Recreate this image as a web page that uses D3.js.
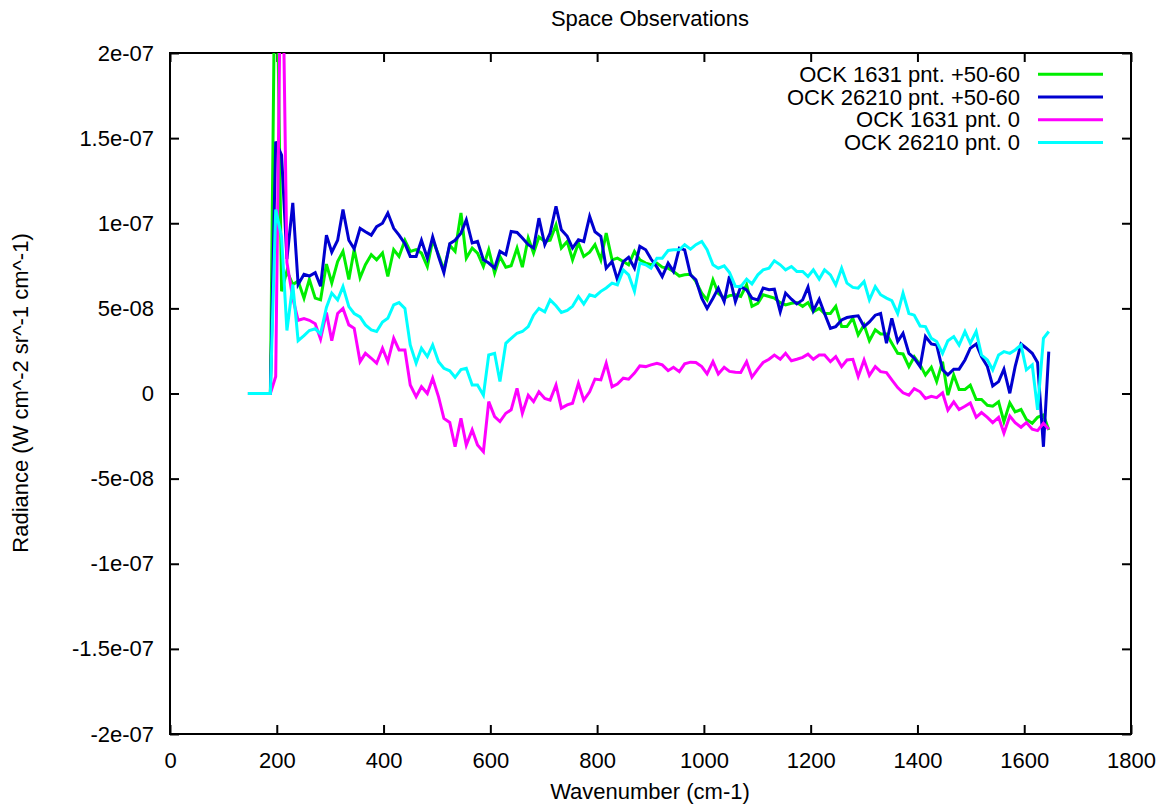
<!DOCTYPE html>
<html>
<head>
<meta charset="utf-8">
<script src="https://cdnjs.cloudflare.com/ajax/libs/d3/7.8.5/d3.min.js"></script>
<style>
  body { margin: 0; background: #fff; }
  text { font-family: "Liberation Sans", Arial, sans-serif; }
</style>
</head>
<body>
<div id="graph"></div>
<script>
'use strict';

// radiance values are read in units of 1e-9 W cm^-2 sr^-1 cm^-1
const UNIT = 1e-9;

const wavenumbers = [
  146, 156, 167, 177, 188, 198, 209, 219, 230, 240,
  251, 261, 272, 282, 293, 303, 314, 324, 335, 345,
  356, 366, 377, 387, 398, 408, 419, 429, 440, 450,
  461, 471, 482, 492, 503, 513, 524, 534, 545, 555,
  566, 576, 587, 597, 608, 618, 629, 639, 650, 660,
  671, 681, 691, 702, 712, 723, 733, 744, 754, 765,
  775, 786, 796, 807, 817, 828, 838, 849, 859, 870,
  880, 891, 901, 912, 922, 933, 943, 954, 964, 975,
  985, 996, 1006, 1017, 1027, 1038, 1048, 1059, 1069, 1080,
  1090, 1101, 1111, 1122, 1132, 1143, 1153, 1164, 1174, 1185,
  1195, 1205, 1216, 1226, 1237, 1247, 1258, 1268, 1279, 1289,
  1300, 1310, 1321, 1331, 1342, 1352, 1363, 1373, 1384, 1394,
  1405, 1415, 1426, 1436, 1447, 1457, 1468, 1478, 1489, 1499,
  1510, 1520, 1531, 1541, 1552, 1562, 1573, 1583, 1594, 1604,
  1615, 1625, 1636, 1646
];

const ock1631_50_60 = [
  0, 0, 0, 0, 0, 300, 60, 72, 64, 66,
  56, 67, 56, 55, 76, 65, 77.5, 83.5, 67, 84.5,
  68, 75.6, 81.5, 78.5, 82.5, 68.7, 84.5, 80.5, 90, 83.5,
  84.5, 82.5, 74.6, 90, 81.5, 72.6, 87, 83.5, 106, 79.5,
  85.4, 82.5, 74.6, 84.5, 70.7, 80.5, 74.2, 75, 85.4, 74.2,
  91.3, 82.5, 91.9, 89.3, 90, 99, 85.4, 89.3, 78.5, 88.4,
  80.5, 83, 87.4, 78.5, 94.2, 78.5, 79.5, 77.5, 75.6, 83.5,
  78.5, 76.6, 75.6, 76.6, 74.2, 73.6, 71.7, 69, 69.7, 70,
  65.8, 58.9, 55, 66.8, 58.9, 56, 57.5, 58, 57, 63.8,
  51.2, 53, 58, 57, 56, 53.4, 52, 53, 53.4, 51.2,
  53.4, 48, 50, 47, 47, 51.2, 39.3, 39.3, 44.2, 34.4,
  40.3, 31, 37.4, 35, 35, 29.5, 23.6, 23.2, 15.8, 21.6,
  16.8, 10.9, 15.4, 7, 18.7, -1, 10.9, 2.4, 2.4, 4.9,
  -3.5, -3.5, -6.9, -7.5, -4.9, -16.5, -5.5, -10.8, -9.4, -15.2,
  -17.5, -14, -12.6, -21.4
];

const ock26210_50_60 = [
  0, 0, 0, 0, 0, 148, 140, 79, 112, 64,
  70, 69, 71, 63, 93, 83, 90, 108, 90, 85,
  97, 95, 93, 98, 100, 106, 97, 93, 88, 80.5,
  80.5, 90, 79.5, 92, 80.5, 71, 88, 90, 94.2, 102,
  88.4, 89.3, 78.5, 76.6, 73.6, 83.5, 81.5, 95.2, 94.6, 91.3,
  87.4, 85.4, 103, 87.4, 94.2, 110, 96.2, 92.3, 85.4, 90.3,
  89.3, 104, 95, 92.3, 73.6, 77.5, 66.8, 77.5, 80, 73.6,
  86.4, 84.4, 79, 74.2, 68.7, 76.6, 71.7, 85.4, 84.4, 69.7,
  66.8, 56, 50, 56, 61.9, 54, 69, 54, 62.8, 60.9,
  56, 55, 62, 61, 61.3, 48, 59, 55.4, 52.6, 55,
  62.5, 48.7, 55.4, 47, 38.3, 39.3, 43.2, 44.6, 45.2, 45.6,
  39.3, 42, 46, 47, 29.5, 44.2, 30.5, 35.4, 23.6, 20.7,
  15.8, 33.4, 29.1, 28.5, 13.9, 10.9, 14.3, 14.3, 19.7, 26.6,
  29.1, 21.6, 15.8, 4.4, 7, 14.3, 0.1, 15.8, 29.1, 26.6,
  23.6, 18.2, -31.3, 24.6
];

const ock1631_0 = [
  0, 0, 0, 0, 0, 10, 300, 77, 56, 43,
  44, 43, 41, 32, 47.5, 31, 47, 50, 40.3, 38.3,
  18.7, 23.6, 20.7, 17.8, 26.6, 18.7, 32.4, 25.6, 25.6, 5,
  -1.9, 4, 0, 9, -2, -14.6, -17, -31.3, -14.6, -30.3,
  -21.4, -30.3, -34.2, -4.8, -13.6, -16.5, -11.6, -9.6, 3, -11.6,
  -1, -4.8, 1, -2.9, -3.9, 5, -8.6, -6.7, -5.7, 6,
  -3.9, 1, 8.5, 8, 17.8, 4, 5.6, 9, 8.4, 12,
  16.2, 15.8, 16.8, 17.8, 16.8, 13.4, 15.4, 12.8, 17.4, 18.4,
  18.2, 15.8, 11.5, 18.7, 11.5, 15.4, 13, 12.5, 12.3, 18.7,
  9.6, 14.3, 18.2, 20.1, 22.6, 20.1, 23.6, 19.2, 20.1, 21.2,
  23.1, 20.1, 22.6, 22.6, 18.7, 21.6, 15.8, 19.7, 20.1, 10,
  19.7, 10.6, 15.8, 12.8, 12.3, 8, 3.5, 0.4, -1, 2.9,
  1, -2.9, -1.6, -2.4, 0.4, -9.8, -4.9, -9.4, -7.5, -5.5,
  -14, -11.2, -14, -17.1, -14, -23.3, -13.2, -17.1, -19.8, -17.1,
  -21, -21.8, -17.5, -21
];

const ock26210_0 = [
  0, 0, 0, 0, 0, 108, 92, 37, 64, 31,
  34, 37, 38, 35, 50.5, 59, 55, 62.8, 51, 47,
  45, 40.3, 37.4, 36.4, 42, 44.2, 52, 53.4, 50, 28.5,
  17.8, 26.6, 21.7, 28.5, 18.7, 14.8, 13.3, 9.5, 14, 14.8,
  5, 5, -1, 22.6, 23.6, 7, 29.5, 32.4, 35.4, 36.4,
  39.3, 46, 50, 48, 55, 51.5, 47.6, 48.8, 51.2, 57,
  52.6, 58, 57, 60, 62, 64.8, 63.8, 72.6, 69.7, 60,
  76.6, 75.6, 73.6, 79.5, 79.5, 84, 84.4, 84.4, 87.4, 84.8,
  87.4, 89.3, 84.4, 75.6, 73.6, 75, 71, 63, 62.8, 67.2,
  64.4, 69.7, 72.6, 73.6, 78, 75.6, 72.6, 74.6, 71.7, 71.7,
  68.7, 72.6, 67.2, 72.6, 69.7, 63.8, 73.6, 64.8, 62.3, 61.9,
  65.8, 55, 62.8, 58, 56, 54.6, 47, 58.9, 47, 46,
  39.6, 39.3, 32.4, 30.5, 23.6, 31, 33.4, 28.5, 36.4, 29.5,
  36.4, 22.6, 19.7, 13.9, 22.6, 24.6, 23.6, 25.6, 28.5, 13.9,
  16.8, -9.6, 32.4, 36.4
];

const seriesNames = [
  "OCK 1631 pnt. +50-60",
  "OCK 26210 pnt. +50-60",
  "OCK 1631 pnt. 0",
  "OCK 26210 pnt. 0"
];
const seriesColors = ["#00ee00", "#0000d0", "#ff00ff", "#00ffff"];

const xTickValues = [0, 200, 400, 600, 800, 1000, 1200, 1400, 1600, 1800];
const yTickValues = [-2e-7, -1.5e-7, -1e-7, -5e-8, 0, 5e-8, 1e-7, 1.5e-7, 2e-7];
const yTickLabels = ["-2e-07", "-1.5e-07", "-1e-07", "-5e-08", "0", "5e-08", "1e-07", "1.5e-07", "2e-07"];

let svgContainer = "";
const FONT = '22px';

window.onload = function() {
  svgContainer = d3.select('#graph')
    .append('svg')
    .attr('width', 1165)
    .attr('height', 808);

  let map = drawAxes();
  plotData(map);
  makeLabels();
  drawLegend();
};

// frame, inward ticks on all four sides, tick labels on left and bottom
function drawAxes() {
  let xScale = d3.scaleLinear().domain([0, 1800]).range([170, 1131]);
  let yScale = d3.scaleLinear().domain([-2e-7, 2e-7]).range([734, 53]);

  let styleAxis = function(g) {
    g.select('.domain').remove();
    g.selectAll('line').attr('stroke', '#000').attr('stroke-width', 2);
    g.selectAll('text')
      .attr('fill', '#000')
      .style('font-family', '"Liberation Sans", Arial, sans-serif')
      .style('font-size', FONT);
  };

  svgContainer.append('g')
    .attr('transform', 'translate(0, 734)')
    .call(d3.axisBottom(xScale).tickValues(xTickValues).tickFormat(d3.format('d'))
      .tickSizeInner(-9).tickSizeOuter(0).tickPadding(18))
    .call(styleAxis);

  svgContainer.append('g')
    .attr('transform', 'translate(0, 53)')
    .call(d3.axisTop(xScale).tickValues(xTickValues).tickFormat('')
      .tickSizeInner(-9).tickSizeOuter(0))
    .call(styleAxis);

  svgContainer.append('g')
    .attr('transform', 'translate(170, 0)')
    .call(d3.axisLeft(yScale).tickValues(yTickValues).tickFormat((d, i) => yTickLabels[i])
      .tickSizeInner(-9).tickSizeOuter(0).tickPadding(16))
    .call(styleAxis);

  svgContainer.append('g')
    .attr('transform', 'translate(1131, 0)')
    .call(d3.axisRight(yScale).tickValues(yTickValues).tickFormat('')
      .tickSizeInner(-9).tickSizeOuter(0))
    .call(styleAxis);

  svgContainer.append('rect')
    .attr('x', 170).attr('y', 53)
    .attr('width', 961).attr('height', 681)
    .attr('fill', 'none')
    .attr('stroke', '#000')
    .attr('stroke-width', 2);

  return { xScale: xScale, yScale: yScale };
}

// draw the four spectra, clipped to the frame like gnuplot does
function plotData(map) {
  svgContainer.append('clipPath')
    .attr('id', 'plotClip')
    .append('rect')
    .attr('x', 170).attr('y', 53)
    .attr('width', 961).attr('height', 681);

  let allSeries = [ock1631_50_60, ock26210_50_60, ock1631_0, ock26210_0];

  let line = d3.line()
    .x((d, i) => map.xScale(wavenumbers[i]))
    .y(d => map.yScale(d * UNIT));

  svgContainer.append('g')
    .attr('clip-path', 'url(#plotClip)')
    .selectAll('path')
    .data(allSeries)
    .enter()
    .append('path')
      .attr('d', line)
      .attr('fill', 'none')
      .attr('stroke', (d, i) => seriesColors[i])
      .attr('stroke-width', 3);
}

function makeLabels() {
  svgContainer.append('text')
    .attr('x', 650)
    .attr('y', 26)
    .attr('text-anchor', 'middle')
    .style('font-size', FONT)
    .text('Space Observations');

  svgContainer.append('text')
    .attr('x', 650)
    .attr('y', 799)
    .attr('text-anchor', 'middle')
    .style('font-size', FONT)
    .text('Wavenumber (cm-1)');

  svgContainer.append('text')
    .attr('transform', 'translate(28, 393)rotate(-90)')
    .attr('text-anchor', 'middle')
    .style('font-size', FONT)
    .text('Radiance (W cm^-2 sr^-1 cm^-1)');
}

// legend in the top right corner, text right aligned before the sample line
function drawLegend() {
  svgContainer.selectAll('.legendName')
    .data(seriesNames)
    .enter()
    .append('text')
      .attr('x', 1020)
      .attr('y', (d, i) => 74.3 + 22.7 * i)
      .attr('dy', '0.35em')
      .attr('text-anchor', 'end')
      .style('font-size', FONT)
      .text(d => d);

  svgContainer.selectAll('.legendLine')
    .data(seriesColors)
    .enter()
    .append('line')
      .attr('x1', 1038)
      .attr('x2', 1103)
      .attr('y1', (d, i) => 74.3 + 22.7 * i)
      .attr('y2', (d, i) => 74.3 + 22.7 * i)
      .attr('stroke', d => d)
      .attr('stroke-width', 3);
}
</script>
</body>
</html>
